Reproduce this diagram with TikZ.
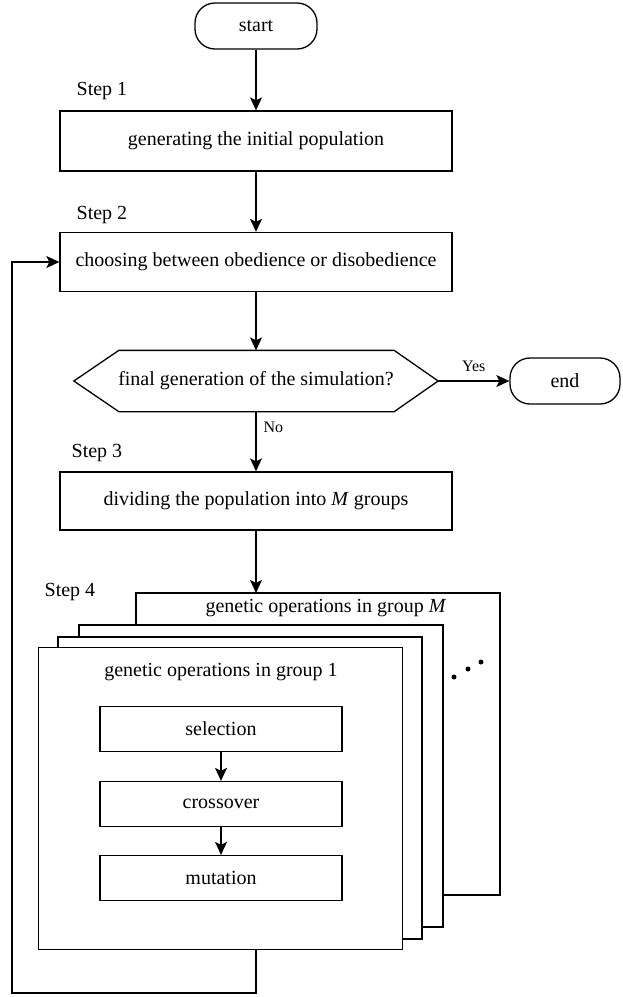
\documentclass[tikz,border=0pt]{standalone}
\usepackage{fontspec}
\setmainfont{Liberation Serif}
\usetikzlibrary{arrows.meta,calc}
\begin{document}
\begin{tikzpicture}[x=1pt,y=-1pt,line width=1.3pt,>={Stealth[length=13pt,width=12pt,inset=3pt]}]

\tikzset{termbox/.style={draw,rounded corners=20pt,minimum width=122pt,minimum height=46pt,inner sep=0pt,font=\fontsize{20}{24}\selectfont},}
\tikzset{stepbox/.style={draw,minimum width=392pt,minimum height=60pt,inner sep=0pt,font=\fontsize{20}{24}\selectfont},}
\tikzset{grpbox/.style={draw,fill=white,minimum width=364pt,minimum height=302pt,inner sep=0pt},}
\tikzset{opbox/.style={draw,minimum width=242pt,minimum height=45pt,inner sep=0pt,font=\fontsize{20}{24}\selectfont},}
\tikzset{steplabel/.style={anchor=west,inner sep=0pt,font=\fontsize{20}{24}\selectfont},}
\tikzset{txt/.style={inner sep=0pt,font=\fontsize{20}{24}\selectfont},}
\tikzset{yesno/.style={inner sep=0pt,font=\fontsize{16}{19}\selectfont},}

\useasboundingbox (0,0) rectangle (622,997);

%MAIN FLOW
\draw (256,26) node [termbox] (start) {start};
\draw (256,141) node [stepbox] (init) {generating the initial population};
\draw (256,262) node [stepbox,minimum height=59pt] (choose) {choosing between obedience or disobedience};
\draw (256,381) node [txt,minimum width=363pt,minimum height=60pt] (final) {final generation of the simulation?};
\draw (final.west) -- ($(final.north west)+(45,0)$) -- ($(final.north east)+(-44,0)$) -- (final.east)
   -- ($(final.south east)+(-44,0)$) -- ($(final.south west)+(45,0)$) -- cycle;
\draw (565,381) node [termbox,minimum width=110pt] (end) {end};
\draw (256,501) node [stepbox,minimum height=58pt] (divide) {dividing the population into \textit{M} groups};

\draw (76,91) node [steplabel] (s1) {Step 1};
\draw (76,215) node [steplabel] (s2) {Step 2};
\draw (71,453) node [steplabel] (s3) {Step 3};
\draw (44,592) node [steplabel] (s4) {Step 4};

\draw[->] (start) -- (init);
\draw[->] (init) -- (choose);
\draw[->] (choose) -- (final);
\draw[->] (final) -- node[yesno,above=9pt] (yes) {Yes} (end);
\draw[->] (final) -- node[yesno,pos=0.27,right=7pt] (no) {No} (divide);
\draw[->] (divide) -- (divide.south |- 0,593);

%GROUPS
\draw (318,744) node [grpbox] (grpM) {};
\draw (261,776) node [grpbox] (grp3) {};
\draw (240,788) node [grpbox] (grp2) {};
\draw (220.5,798.5) node [grpbox] (grp1) {};
\draw (326,608) node [txt] (lblM) {genetic operations in group \textit{M}};
\draw (221,672) node [txt] (lbl1) {genetic operations in group 1};
\fill (454,677) circle (2.5) (468,669) circle (2.5) (481,662) circle (2.5);

\draw (221,729) node [opbox] (sel) {selection};
\draw (221,804) node [opbox] (cross) {crossover};
\draw (221,878) node [opbox] (mut) {mutation};
\draw[->] (sel) -- (cross);
\draw[->] (cross) -- (mut);

%FEEDBACK
\coordinate (back) at (12,993);
\draw[->] (divide.south |- grp1.south) |- (back) |- (choose);

\end{tikzpicture}
\end{document}
